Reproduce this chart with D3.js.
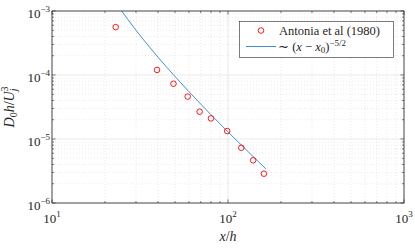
<!DOCTYPE html>
<html>
<head>
<meta charset="utf-8">
<script src="https://cdn.jsdelivr.net/npm/d3@7"></script>
<style>
  body { margin: 0; background: #fff; }
</style>
</head>
<body>
<div id="chart"></div>
<script>
// data
var antoniaX = [23, 39.5, 49, 59, 69, 80, 99, 119, 139, 160];
var antoniaY = [5.6e-4, 1.2e-4, 7.3e-5, 4.6e-5, 2.67e-5, 2.1e-5, 1.33e-5, 7.3e-6, 4.65e-6, 2.87e-6];

// fitted curve ~ (x - x0)^-5/2
var fitX = [24.9, 27, 30, 35, 40, 45, 50, 60, 70, 80, 100, 120, 140, 164];
var fitY = [1.0e-3, 7.35e-4, 5.01e-4, 2.95e-4, 1.90e-4, 1.31e-4, 9.47e-5, 5.49e-5, 3.51e-5, 2.40e-5, 1.29e-5, 7.88e-6, 5.21e-6, 3.42e-6];

var xTicks = [10, 100, 1000];
var xTickExp = ["1", "2", "3"];
var yTicks = [1e-3, 1e-4, 1e-5, 1e-6];
var yTickExp = ["-3", "-4", "-5", "-6"];

var W = 415, H = 248;
var margin = {left: 52, top: 11, right: 11, bottom: 45};

var svg = d3.select("#chart").append("svg")
    .attr("width", W)
    .attr("height", H);

var x = d3.scaleLog().domain([10, 1000]).range([margin.left, W - margin.right]);
var y = d3.scaleLog().domain([1e-6, 1e-3]).range([H - margin.bottom, margin.top]);

var x0 = x.range()[0], x1 = x.range()[1];
var y0 = y.range()[0], y1 = y.range()[1];

// minor positions
var xMinor = [], yMinor = [];
[10, 100].forEach(function(d) {
    for (var k = 2; k <= 9; k++) xMinor.push(d * k);
});
[1e-6, 1e-5, 1e-4].forEach(function(d) {
    for (var k = 2; k <= 9; k++) yMinor.push(d * k);
});

var grid = svg.append("g");

grid.selectAll(".xminor")
    .data(xMinor)
    .enter().append("line")
        .attr("x1", d => x(d)).attr("x2", d => x(d))
        .attr("y1", y0).attr("y2", y1)
        .style("stroke", "#d4d4d4")
        .style("stroke-width", 0.5)
        .style("stroke-dasharray", "1,2");

grid.selectAll(".yminor")
    .data(yMinor)
    .enter().append("line")
        .attr("y1", d => y(d)).attr("y2", d => y(d))
        .attr("x1", x0).attr("x2", x1)
        .style("stroke", "#d4d4d4")
        .style("stroke-width", 0.5)
        .style("stroke-dasharray", "1,2");

grid.selectAll(".xmajor")
    .data(xTicks)
    .enter().append("line")
        .attr("x1", d => x(d)).attr("x2", d => x(d))
        .attr("y1", y0).attr("y2", y1)
        .style("stroke", "#e3e3e3")
        .style("stroke-width", 0.8);

grid.selectAll(".ymajor")
    .data(yTicks)
    .enter().append("line")
        .attr("y1", d => y(d)).attr("y2", d => y(d))
        .attr("x1", x0).attr("x2", x1)
        .style("stroke", "#e3e3e3")
        .style("stroke-width", 0.8);

// fit line
var line = d3.line()
    .x((d, i) => x(fitX[i]))
    .y(d => y(d))
    .curve(d3.curveMonotoneX);

svg.append("path")
    .datum(fitY)
    .attr("d", line)
    .style("fill", "none")
    .style("stroke", "#2b86cc")
    .style("stroke-width", 0.9);

// data points
svg.selectAll(".pt")
    .data(antoniaY)
    .enter().append("circle")
        .attr("cx", (d, i) => x(antoniaX[i]))
        .attr("cy", d => y(d))
        .attr("r", 2.8)
        .style("fill", "none")
        .style("stroke", "#ff0000")
        .style("stroke-width", 0.9);

// axes with inward ticks, box on
var axisCol = "#262626";
var ax = svg.append("g");

function ticks(data, len, horiz) {
    data.forEach(function(d) {
        if (horiz) {
            ax.append("line").attr("x1", x(d)).attr("x2", x(d)).attr("y1", y0).attr("y2", y0 - len).style("stroke", axisCol).style("stroke-width", 0.6);
            ax.append("line").attr("x1", x(d)).attr("x2", x(d)).attr("y1", y1).attr("y2", y1 + len).style("stroke", axisCol).style("stroke-width", 0.6);
        } else {
            ax.append("line").attr("y1", y(d)).attr("y2", y(d)).attr("x1", x0).attr("x2", x0 + len).style("stroke", axisCol).style("stroke-width", 0.6);
            ax.append("line").attr("y1", y(d)).attr("y2", y(d)).attr("x1", x1).attr("x2", x1 - len).style("stroke", axisCol).style("stroke-width", 0.6);
        }
    });
}
ticks(xTicks, 3.6, true);
ticks(xMinor, 2, true);
ticks(yTicks, 3.6, false);
ticks(yMinor, 2, false);

ax.append("rect")
    .attr("x", x0).attr("y", y1)
    .attr("width", x1 - x0).attr("height", y0 - y1)
    .style("fill", "none")
    .style("stroke", axisCol)
    .style("stroke-width", 0.8);

// helper for serif text
function txt(parent) {
    return parent.append("text")
        .attr("font-family", "Liberation Serif")
        .style("fill", "#262626");
}

// tick labels
var lab = svg.append("g");

xTicks.forEach(function(d, i) {
    var t = txt(lab)
        .attr("x", x(d))
        .attr("y", 223)
        .attr("text-anchor", "middle")
        .style("font-size", "13px");
    t.append("tspan").text("10");
    t.append("tspan").attr("dy", -6).style("font-size", "9px").text(xTickExp[i]);
});

yTicks.forEach(function(d, i) {
    var t = txt(lab)
        .attr("x", 50)
        .attr("y", y(d) + 7)
        .attr("text-anchor", "end")
        .style("font-size", "13px");
    t.append("tspan").text("10");
    t.append("tspan").attr("dy", -6).style("font-size", "9px").text(yTickExp[i].replace("-", "\u2212"));
});

// x label
var xl = txt(lab)
    .attr("x", x(100))
    .attr("y", 241)
    .attr("text-anchor", "middle")
    .style("font-size", "14px");
xl.append("tspan").style("font-style", "italic").text("x");
xl.append("tspan").text("/");
xl.append("tspan").style("font-style", "italic").text("h");

// y label
var yl = txt(lab)
    .attr("transform", "translate(14," + ((y0 + y1) / 2) + ") rotate(-90)")
    .attr("text-anchor", "middle")
    .style("font-size", "14px");
yl.append("tspan").style("font-style", "italic").text("D");
yl.append("tspan").attr("dy", 3).style("font-size", "10px").text("0");
yl.append("tspan").attr("dy", -3).style("font-style", "italic").text("h");
yl.append("tspan").text("/");
yl.append("tspan").style("font-style", "italic").text("U");
yl.append("tspan").attr("dy", 3).style("font-size", "10px").style("font-style", "italic").text("j");
yl.append("tspan").attr("dx", -3).attr("dy", -9).style("font-size", "10px").text("3");

// legend
var lg = svg.append("g");
lg.append("rect")
    .attr("x", 239.5).attr("y", 21.5)
    .attr("width", 154).attr("height", 36)
    .style("fill", "#fff")
    .style("stroke", "#262626")
    .style("stroke-width", 0.6);

lg.append("circle")
    .attr("cx", 261).attr("cy", 30.5)
    .attr("r", 2.8)
    .style("fill", "none")
    .style("stroke", "#ff0000")
    .style("stroke-width", 0.9);

txt(lg)
    .attr("x", 279).attr("y", 34.5)
    .style("font-size", "12.5px")
    .text("Antonia et al (1980)");

lg.append("line")
    .attr("x1", 246).attr("x2", 276)
    .attr("y1", 46.5).attr("y2", 46.5)
    .style("stroke", "#2b86cc")
    .style("stroke-width", 0.9);

var lt = txt(lg)
    .attr("x", 278).attr("y", 50.5)
    .style("font-size", "12.5px");
lt.append("tspan").text("\u223C (");
lt.append("tspan").style("font-style", "italic").text("x");
lt.append("tspan").text(" \u2212 ");
lt.append("tspan").style("font-style", "italic").text("x");
lt.append("tspan").attr("dy", 2.5).style("font-size", "9px").text("0");
lt.append("tspan").attr("dy", -2.5).text(")");
lt.append("tspan").attr("dy", -5).style("font-size", "9px").text("\u22125/2");
</script>
</body>
</html>
